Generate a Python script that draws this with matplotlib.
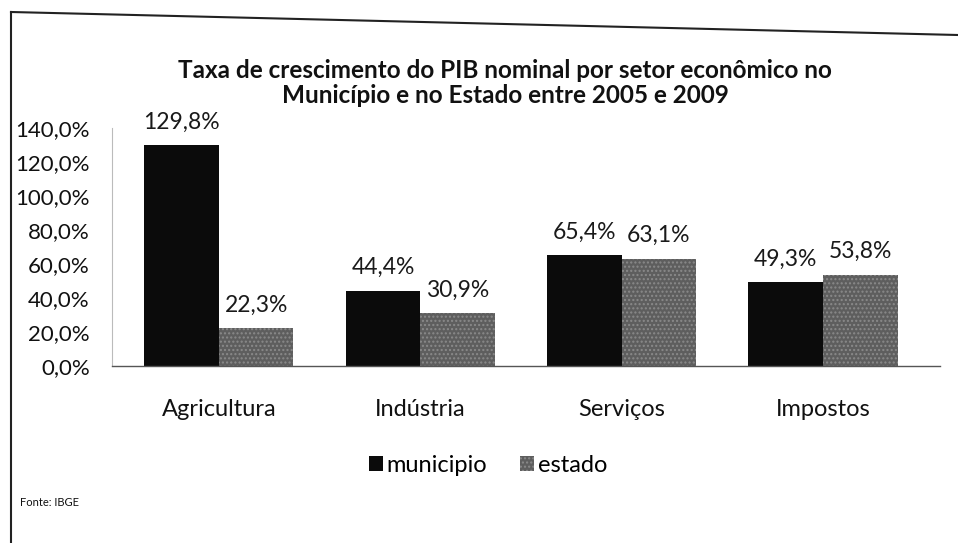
#Taxa de crescimento do PIB nominal por setor - municipio x estado (2005 a 2009)
import numpy as np
import matplotlib.pyplot as plt
from matplotlib.lines import Line2D

plt.rcParams['font.family'] = ['Lato', 'DejaVu Sans']

#Data
setores = ["Agricultura", "Indústria", "Serviços", "Impostos"]
municipio = [129.8, 44.4, 65.4, 49.3]
estado = [22.3, 30.9, 63.1, 53.8]
yTicks = [0, 20, 40, 60, 80, 100, 120, 140]

def pct(v):
    return ("%.1f%%" % v).replace(".", ",")

fig = plt.figure(figsize=(9.58, 5.43), dpi=100)
ax = fig.add_axes([0.117, 0.326, 0.864, 0.438])

x = np.arange(len(setores))
w = 0.37
b1 = ax.bar(x - w/2, municipio, w, color='#0b0b0b', label='municipio')
b2 = ax.bar(x + w/2, estado, w, color='#5e5e5e', edgecolor='#8a8a8a', hatch='....', linewidth=0, label='estado')

#value labels above the bars
for bars, vals in [(b1, municipio), (b2, estado)]:
    for r, v in zip(bars, vals):
        ax.annotate(pct(v), (r.get_x() + r.get_width()/2, v), xytext=(0, 9), textcoords='offset points',
                    ha='center', va='bottom', fontsize=16.5, color='#1a1a1a')

ax.set_xlim(-0.53, 3.58)
ax.set_ylim(0, 140)
ax.set_yticks(yTicks)
ax.set_yticklabels([pct(t) for t in yTicks], fontsize=16, color='#111111')
ax.set_xticks(x)
ax.set_xticklabels(setores, fontsize=17, color='#111111')
ax.tick_params(axis='y', length=0, pad=16)
ax.tick_params(axis='x', length=0, pad=24)
for s in ['top', 'right']:
    ax.spines[s].set_visible(False)
ax.spines['left'].set_color('#bbbbbb')
ax.spines['left'].set_linewidth(0.8)
ax.spines['bottom'].set_color('#555555')
ax.spines['bottom'].set_linewidth(1.0)

fig.text(505/958, 1 - 83/543, "Taxa de crescimento do PIB nominal por setor econômico no\nMunicípio e no Estado entre 2005 e 2009",
         ha='center', va='center', fontsize=17.5, fontweight='bold', linespacing=1.12, color='#111111')

fig.legend(handles=[b1, b2], labels=['municipio', 'estado'], loc='center', bbox_to_anchor=(488/958, 1 - 465/543),
           ncol=2, frameon=False, fontsize=17, handlelength=0.6, handleheight=0.6, handletextpad=0.15, columnspacing=1.4)

fig.text(20/958, 1 - 503/543, "Fonte: IBGE", fontsize=8, va='center', color='#111111')

#outer frame of the scanned chart (left and top edges)
fig.add_artist(Line2D([11/958, 11/958], [0, 1 - 12/543], transform=fig.transFigure, color='#222222', lw=1.5))
fig.add_artist(Line2D([11/958, 1], [1 - 12/543, 1 - 35/543], transform=fig.transFigure, color='#222222', lw=1.5))

fig.savefig("out.png", dpi=100)
